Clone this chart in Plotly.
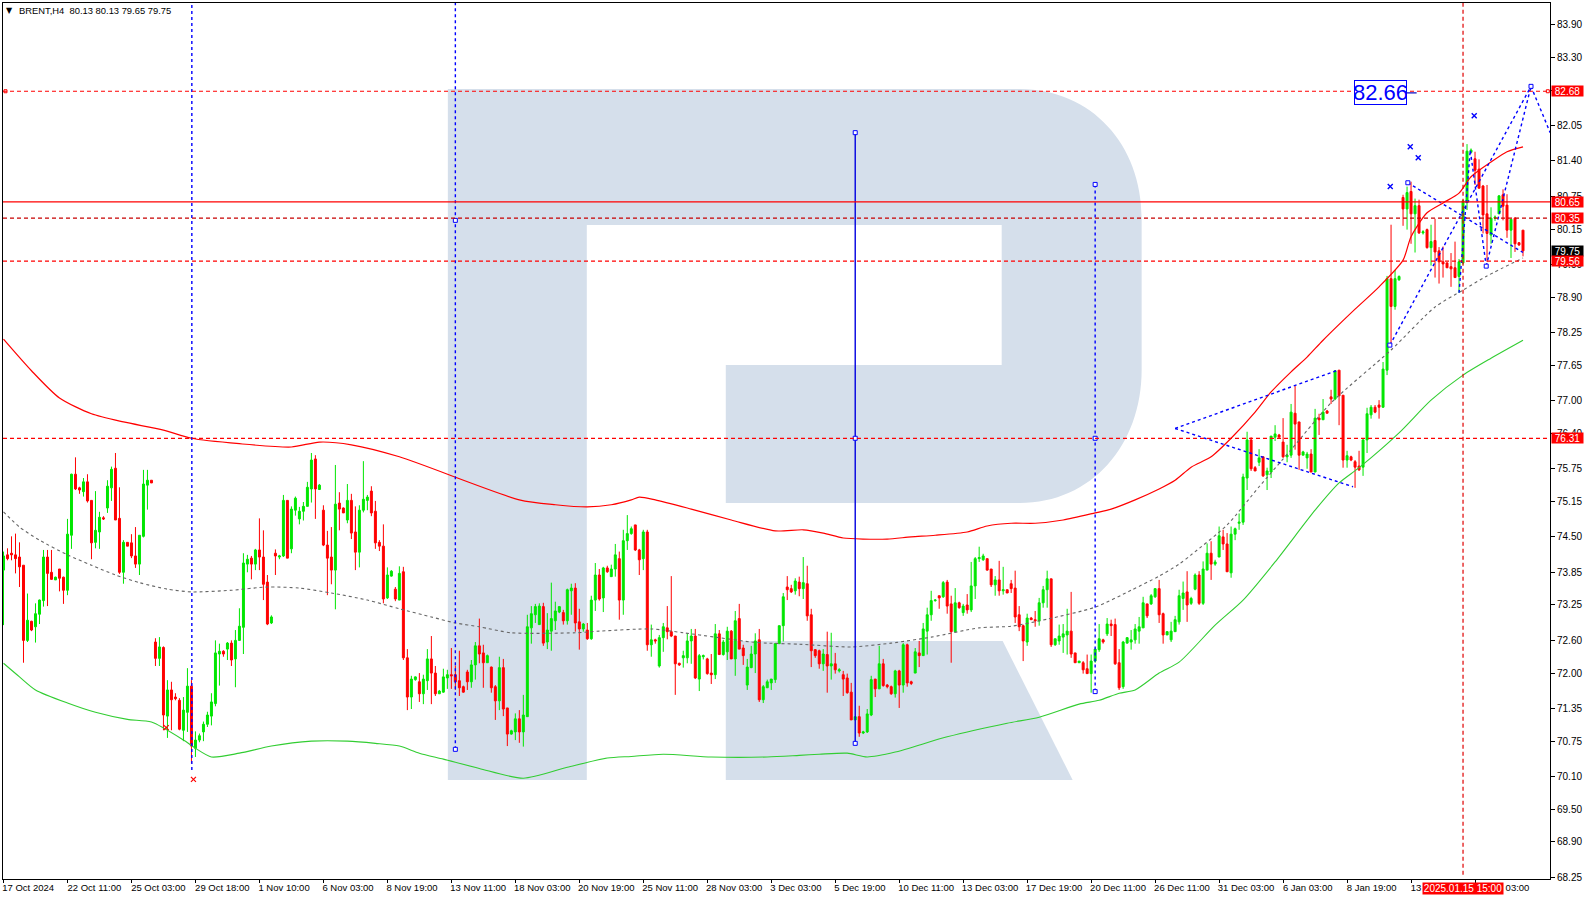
import plotly.graph_objects as go

opens = [
73.89,74.17,74.20,74.17,74.13,73.98,72.60,72.95,72.85,73.08,
73.33,74.13,73.85,73.71,73.91,73.76,73.52,74.53,75.65,75.40,
75.33,75.51,75.17,74.40,74.59,74.85,75.03,75.40,75.76,74.84,
73.85,74.40,74.39,74.15,74.00,74.51,75.45,75.54,72.57,72.27,
72.47,71.21,71.69,71.56,71.50,70.95,71.28,71.76,70.62,70.77,
70.92,71.06,71.21,71.44,72.35,72.40,72.44,72.55,72.26,72.60,
72.84,74.00,74.11,74.00,74.26,74.13,73.67,72.92,74.20,74.13,
74.15,75.17,74.28,74.99,74.83,74.97,75.06,75.38,75.93,75.37,
74.99,74.35,74.13,73.89,75.12,75.03,74.81,75.17,74.59,74.22,
74.99,75.17,75.34,74.97,74.40,74.33,73.38,73.78,73.54,73.34,
73.86,72.28,71.56,71.88,71.84,71.62,71.86,72.26,72.00,71.62,
71.65,71.91,71.97,71.97,71.86,71.75,72.02,71.84,72.15,72.50,
72.37,72.19,72.11,71.75,71.49,72.10,71.36,70.88,70.92,71.16,
70.92,71.20,72.83,73.07,72.89,73.22,72.57,72.77,72.96,73.12,
73.11,72.96,73.51,73.56,72.94,72.81,72.79,72.63,73.34,73.80,
73.38,73.93,73.77,73.91,74.10,73.34,74.43,74.56,74.72,74.26,
74.10,74.59,72.52,72.61,72.13,72.65,72.83,72.76,72.68,72.18,
72.28,72.28,72.59,72.68,71.89,72.30,72.26,72.00,71.97,72.72,
72.34,72.39,72.77,72.26,73.00,72.46,71.78,72.10,72.35,72.61,
71.51,71.73,71.82,71.88,72.54,72.87,73.58,73.55,73.51,73.67,
73.55,73.64,73.07,72.43,72.41,72.17,72.34,72.13,72.17,72.04,
71.97,71.91,71.65,71.14,71.20,70.90,70.92,71.23,71.89,71.71,
72.17,71.78,71.75,71.62,72.04,71.78,72.52,71.84,72.00,72.37,
72.32,72.77,73.07,73.33,73.42,73.40,73.67,73.27,72.76,73.29,
73.11,73.25,73.16,73.60,74.10,74.08,74.10,73.91,73.62,73.71,
73.51,73.53,73.64,73.56,73.07,72.87,72.57,73.01,72.98,72.96,
73.29,73.53,73.73,72.52,72.59,72.66,72.70,72.77,72.37,72.19,
72.19,72.08,71.99,72.22,72.43,72.61,72.72,72.90,72.89,72.19,
71.75,72.55,72.57,72.61,72.77,72.83,73.27,73.27,73.40,73.55,
73.09,72.70,72.61,72.76,72.94,73.37,73.49,73.28,73.54,73.80,
73.28,73.89,74.20,74.00,74.13,74.50,74.37,73.84,74.55,74.75,
74.77,75.58,76.28,75.77,75.87,75.97,75.64,75.69,76.33,76.37,
76.24,75.97,76.00,76.77,76.61,76.00,75.95,76.02,75.69,76.68,
76.65,76.81,77.07,77.03,77.56,77.10,75.91,75.97,75.88,75.80,
75.78,76.28,76.74,76.88,76.92,76.88,77.56,79.24,78.73,79.22,
80.73,80.52,80.84,80.43,80.58,80.08,80.14,79.81,79.94,79.75,
79.55,79.53,79.46,79.44,79.28,79.53,80.65,81.56,81.44,81.25,
80.94,80.43,80.04,80.35,80.43,80.78,80.59,80.13,80.35,79.90,
80.13]
highs = [
74.23,74.29,74.51,74.56,74.40,73.98,73.46,72.96,73.28,73.35,
74.26,74.26,74.26,73.77,73.91,73.77,74.83,75.66,75.96,75.42,
75.58,75.65,75.17,75.34,74.96,74.88,75.54,75.79,76.04,75.41,
74.44,74.40,74.55,74.68,74.53,75.73,75.73,75.54,72.64,72.66,
72.49,71.87,71.84,71.63,71.54,71.56,72.09,71.87,70.93,70.89,
71.11,71.29,71.63,72.60,72.54,72.42,72.57,72.60,72.79,73.19,
74.20,74.17,74.15,74.28,74.84,74.62,73.80,73.06,74.27,74.17,
75.27,75.17,75.06,75.24,75.05,75.14,75.51,76.04,76.00,75.47,
75.08,74.61,74.68,75.82,75.32,75.04,75.47,75.29,75.06,75.08,
75.89,75.27,75.43,75.16,74.44,74.73,73.94,73.89,73.58,73.96,
73.95,72.44,71.95,71.94,72.00,71.97,72.44,72.68,72.13,71.69,
72.08,72.06,72.46,72.14,72.41,71.77,72.06,72.24,72.57,73.00,
72.52,72.34,72.12,71.78,72.30,72.26,71.36,70.96,71.26,71.32,
71.60,73.07,73.23,73.27,73.28,73.29,73.10,73.66,73.31,73.22,
73.16,73.55,73.64,73.65,73.18,72.92,72.92,73.42,74.02,73.91,
73.95,73.97,73.99,74.37,74.23,74.63,74.90,74.69,74.72,74.28,
74.63,74.63,72.89,72.63,72.70,72.92,73.23,73.78,72.68,72.19,
72.41,72.73,72.81,72.81,72.35,72.34,72.28,72.35,72.90,72.79,
72.61,72.85,72.79,73.14,73.27,72.52,72.26,72.50,72.73,72.81,
71.78,71.88,71.89,72.55,72.87,73.47,73.78,73.62,73.74,73.77,
74.13,73.97,73.18,72.44,72.43,72.44,72.76,72.74,72.37,72.09,
72.04,71.99,71.82,71.20,71.40,70.94,71.34,71.95,71.89,72.50,
72.26,71.80,71.77,72.06,72.06,72.55,72.54,71.86,72.46,72.59,
72.92,73.20,73.51,73.36,73.42,73.69,73.71,73.42,73.56,73.31,
73.27,73.45,74.04,74.13,74.32,74.19,74.10,73.91,73.78,74.06,
73.95,73.53,73.71,73.88,73.23,72.89,73.09,73.03,73.14,73.38,
73.60,73.88,73.73,72.63,72.89,72.90,73.18,73.49,72.37,72.22,
72.22,72.34,72.34,72.44,72.90,72.63,73.01,72.98,73.00,72.44,
72.59,72.66,72.79,72.90,73.03,73.40,73.27,73.45,73.56,73.71,
73.11,72.77,72.94,73.05,73.53,73.68,73.87,73.40,73.83,73.87,
74.05,74.38,74.42,74.08,74.69,74.63,74.57,74.69,74.67,74.93,
75.66,76.43,76.33,75.80,76.11,75.97,75.77,76.35,76.55,76.39,
76.68,76.19,76.94,77.27,76.61,76.08,76.06,76.11,76.85,76.76,
77.03,76.83,77.20,77.55,77.56,77.10,76.08,75.99,75.91,76.08,
76.30,76.87,76.92,76.92,77.01,77.71,79.29,80.23,79.40,79.30,
80.78,80.93,81.02,80.71,80.69,80.13,80.16,80.23,80.34,79.82,
79.83,79.53,79.71,79.92,79.60,80.69,81.71,81.63,81.57,81.43,
80.96,80.96,80.55,80.40,80.77,80.88,80.79,80.33,80.37,79.91,
80.13]
lows = [
72.88,74.07,74.07,73.83,73.58,72.19,72.57,72.77,72.56,72.90,
73.22,73.23,73.71,73.71,73.50,73.27,73.43,74.28,75.36,75.29,
75.24,75.13,74.09,74.29,74.28,74.81,74.94,75.16,74.81,73.82,
73.64,74.33,74.11,73.93,73.80,74.49,75.00,75.49,72.13,72.13,
70.95,70.81,70.95,71.50,70.95,70.75,70.92,70.34,70.46,70.73,
70.75,71.01,71.04,71.39,71.77,72.30,72.24,72.13,71.74,72.60,
72.35,73.85,73.72,73.89,73.89,73.34,72.88,72.90,73.80,74.09,
74.13,74.11,74.20,74.89,74.73,74.80,75.06,75.13,74.83,75.36,
74.33,73.43,73.63,73.17,74.62,74.94,74.75,74.46,73.89,73.94,
74.95,74.99,74.88,74.28,74.24,73.28,73.36,73.77,73.32,73.34,
72.24,71.32,71.34,71.86,71.47,71.43,71.69,71.43,71.58,71.62,
71.64,71.71,71.71,71.69,71.58,71.64,71.69,71.73,71.88,72.18,
71.73,72.19,71.64,71.14,71.32,71.21,70.66,70.87,70.77,70.72,
70.65,71.20,72.54,72.92,72.89,72.50,72.44,72.41,72.79,73.10,
72.89,72.89,73.07,72.76,72.43,72.76,72.61,72.61,73.14,73.33,
73.12,73.84,73.77,73.77,72.98,73.07,74.26,74.54,74.24,73.80,
73.89,72.41,72.30,72.54,72.10,72.39,72.62,72.66,71.60,72.13,
72.10,72.18,72.17,71.89,71.67,72.25,71.97,71.80,71.89,72.34,
72.32,72.24,72.26,71.95,72.44,72.15,71.69,72.09,72.00,71.47,
71.45,71.73,71.69,71.82,72.54,72.58,73.34,73.47,73.44,73.41,
73.36,72.96,72.11,72.28,72.08,72.04,71.64,71.88,71.99,72.01,
71.58,71.62,71.14,71.14,70.83,70.88,70.90,71.21,71.56,71.71,
71.75,71.72,71.60,71.55,71.36,71.64,71.75,71.78,72.00,72.11,
72.32,72.34,72.96,73.31,73.18,73.38,73.09,72.19,72.76,73.18,
73.05,73.09,73.12,73.36,74.04,74.06,73.88,73.58,73.42,73.42,
73.44,73.47,73.47,72.92,72.77,72.22,72.50,72.98,72.85,72.87,
73.20,73.20,72.48,72.50,72.52,72.37,72.34,72.28,72.19,72.19,
71.99,71.99,71.64,72.19,72.39,72.54,72.68,72.68,72.15,71.69,
71.71,72.54,72.43,72.54,72.54,72.83,73.01,73.25,73.38,72.92,
72.54,72.70,72.57,72.76,72.89,73.16,72.94,73.25,73.52,73.25,
73.25,73.89,73.71,73.97,74.13,74.26,73.86,73.75,74.44,74.63,
74.72,75.36,75.71,75.71,75.80,75.60,75.36,75.58,76.26,76.33,
75.95,75.87,75.95,76.10,75.73,76.00,75.75,75.69,75.69,76.37,
76.65,76.77,76.94,77.01,76.55,75.77,75.77,75.89,75.40,75.71,
75.62,76.04,76.67,76.77,76.67,76.87,77.47,78.06,78.67,79.20,
80.21,80.14,79.88,79.72,80.06,80.05,79.79,79.48,79.26,79.15,
79.26,79.44,79.09,79.26,78.98,79.50,80.50,81.55,80.96,80.90,
80.07,79.55,79.88,80.30,80.43,80.31,79.99,79.62,79.73,79.84,
79.65]
closes = [
74.15,74.10,74.17,74.10,73.95,72.60,72.97,72.79,73.09,73.34,
74.13,73.83,73.72,73.76,73.74,73.52,74.55,75.65,75.38,75.36,
75.51,75.16,74.39,74.62,74.86,74.83,75.43,75.74,74.81,73.85,
74.40,74.33,74.15,74.00,74.53,75.47,75.54,75.49,72.27,72.48,
71.23,71.69,71.51,71.53,70.97,71.32,71.76,70.66,70.77,70.85,
71.06,71.23,71.47,72.37,72.40,72.35,72.55,72.24,72.60,72.86,
74.02,74.09,74.00,74.26,74.13,73.63,72.90,73.03,74.15,74.15,
75.17,74.11,75.01,75.21,74.97,75.06,75.41,75.91,75.38,75.45,
74.35,74.11,73.89,75.10,75.01,74.94,75.17,74.57,74.22,74.99,
75.19,75.23,74.94,74.39,74.33,73.36,73.80,73.87,73.36,73.83,
72.28,71.56,71.89,71.93,71.62,71.89,72.26,72.00,71.62,71.67,
71.93,71.97,71.95,71.84,71.73,71.65,71.84,72.15,72.50,72.35,
72.19,72.32,71.73,71.49,72.10,71.34,70.88,70.94,71.16,70.92,
71.23,72.85,73.09,73.22,73.23,72.55,72.79,73.00,73.14,73.22,
72.96,73.53,73.56,72.92,72.81,72.90,72.63,73.34,73.80,73.36,
73.93,73.86,73.91,74.17,73.34,74.43,74.56,74.65,74.26,74.08,
74.59,72.52,72.61,72.59,72.65,72.85,72.76,72.68,72.17,72.15,
72.32,72.59,72.68,71.91,72.32,72.32,71.99,71.97,72.72,72.34,
72.57,72.77,72.26,72.96,72.44,72.32,72.11,72.35,72.59,71.51,
71.75,71.84,71.89,72.54,72.87,73.40,73.53,73.49,73.69,73.55,
73.66,73.05,72.41,72.32,72.17,72.35,72.13,72.17,72.06,72.06,
71.89,71.64,71.14,71.20,70.90,70.92,71.25,71.88,71.71,72.17,
71.77,71.75,71.62,72.04,71.78,72.52,71.82,71.81,72.39,72.32,
72.81,73.07,73.33,73.34,73.38,73.66,73.23,72.76,73.29,73.20,
73.23,73.16,73.60,74.10,74.12,74.15,73.89,73.62,73.71,73.51,
73.53,73.47,73.55,73.03,72.85,72.59,73.01,72.98,72.96,73.29,
73.53,73.73,72.52,72.63,72.68,72.72,72.77,72.35,72.19,72.22,
72.06,71.99,72.22,72.44,72.63,72.57,72.90,72.87,72.17,71.73,
72.57,72.65,72.61,72.81,72.85,73.29,73.05,73.42,73.55,73.07,
72.70,72.76,72.77,72.98,73.42,73.47,73.25,73.37,73.80,73.28,
73.91,74.20,74.00,74.04,74.52,74.37,73.86,74.55,74.65,74.77,
75.60,76.28,75.75,75.71,75.95,75.62,75.71,76.35,76.39,76.33,
75.97,76.00,76.79,76.57,76.00,76.06,76.02,75.69,76.68,76.65,
76.79,76.77,77.03,77.55,77.09,75.91,75.99,75.91,75.78,75.73,
76.28,76.76,76.88,76.79,76.88,77.58,79.24,78.73,79.24,79.28,
80.52,80.82,80.43,80.58,80.08,80.10,79.81,79.92,79.73,79.55,
79.51,79.44,79.42,79.26,79.55,80.67,81.58,81.60,81.23,80.90,
80.41,80.07,80.35,80.37,80.76,80.57,80.13,80.33,79.88,79.86,
79.75]

upper_band_x = [0,7,14,22,30,40,47,59,72,79,87,99,129,138,146,152,157,159,163,172,182,193,200,205,210,215,221,227,233,241,246,252,258,265,273,277,283,289,293,297,302,307,313,317,322,326,330,338,344,350,352,356,360,364,367,372,376,380]
upper_band = [78.13,77.55,77.05,76.76,76.61,76.46,76.31,76.21,76.15,76.24,76.19,75.97,75.18,75.09,75.05,75.09,75.18,75.23,75.18,75.01,74.81,74.61,74.63,74.57,74.48,74.46,74.46,74.50,74.53,74.59,74.70,74.75,74.75,74.81,74.94,75.01,75.18,75.38,75.54,75.78,75.97,76.31,76.79,77.16,77.53,77.80,78.11,78.68,79.09,79.58,80.01,80.45,80.63,80.81,81.11,81.38,81.57,81.66]
lower_band_x = [0,4,8,16,23,31,37,45,48,52,59,67,77,86,93,99,104,110,119,130,141,151,157,165,177,191,199,204,211,216,223,236,251,259,269,274,279,283,289,294,303,310,318,328,334,339,349,357,365,372,380]
lower_band = [72.18,71.93,71.69,71.45,71.28,71.15,71.10,70.77,70.62,70.46,70.53,70.66,70.75,70.75,70.71,70.66,70.53,70.42,70.25,70.07,70.27,70.44,70.47,70.51,70.46,70.46,70.49,70.51,70.53,70.46,70.55,70.83,71.08,71.19,71.43,71.50,71.63,71.69,72.00,72.20,72.88,73.34,74.04,74.99,75.49,75.77,76.41,77.01,77.47,77.78,78.11]
mid_band_x = [0,4,9,16,22,28,34,41,47,57,66,74,82,91,99,107,113,119,127,143,149,162,170,178,187,191,199,212,222,232,244,252,261,273,282,289,294,297,306,314,322,332,347,358,365,371,380]
mid_band = [74.96,74.68,74.44,74.17,73.98,73.80,73.66,73.54,73.49,73.52,73.58,73.56,73.47,73.34,73.18,73.03,72.92,72.85,72.74,72.74,72.77,72.81,72.74,72.66,72.57,72.55,72.53,72.48,72.55,72.66,72.83,72.86,72.99,73.21,73.52,73.78,74.00,74.17,74.72,75.42,76.10,76.96,77.93,78.72,79.03,79.29,79.62]

y_ticks = [83.90,83.30,82.70,82.05,81.40,80.75,80.15,79.50,78.90,78.25,77.65,77.00,76.40,75.75,75.15,74.50,73.85,73.25,72.60,72.00,71.35,70.75,70.10,69.50,68.90,68.25]
x_tick_pos = [0,16,32,48,64,80,96,112,128,144,160,176,192,208,224,240,256,272,288,304,320,336,352,368]
x_tick_text = ["17 Oct 2024","22 Oct 11:00","25 Oct 03:00","29 Oct 18:00","1 Nov 10:00","6 Nov 03:00","8 Nov 19:00","13 Nov 11:00","18 Nov 03:00","20 Nov 19:00","25 Nov 11:00","28 Nov 03:00","3 Dec 03:00","5 Dec 19:00","10 Dec 11:00","13 Dec 03:00","17 Dec 19:00","20 Dec 11:00","26 Dec 11:00","31 Dec 03:00","6 Jan 03:00","8 Jan 19:00","13 Jan 11:00","16 Jan 03:00"]

level_prices = [82.68, 80.65, 80.35, 79.56, 76.31]
level_colors = ["#ff0000", "#ff0000", "#c80000", "#ff0000", "#ff0000"]
level_dash = ["4px,3px", "solid", "4px,3px", "4px,3px", "4px,3px"]
label_prices = [82.68, 80.65, 80.35, 79.75, 79.56, 76.31]
label_bg = ["#ff0000", "#ff0000", "#ff0000", "#000000", "#ff0000", "#ff0000"]

W, H = 1590, 900
L_M, R_M, T_M, B_M = 3, 39.5, 3, 21
PW = W - L_M - R_M
PH = H - T_M - B_M
Y_RANGE = [68.22, 84.30]
X_RANGE = [-0.125, 386.75]
FONT = "Liberation Sans"
FS = 9.5


def px(x):
    return (x - L_M) / PW


def py(y):
    return 1 - (y - T_M) / PH


def path(cmds):
    out = []
    for c in cmds:
        if c[0] in "ML":
            out.append(f"{c[0]} {px(c[1]):.5f} {py(c[2]):.5f}")
        elif c[0] == "C":
            out.append(
                f"C {px(c[1]):.5f} {py(c[2]):.5f} {px(c[3]):.5f} {py(c[4]):.5f} {px(c[5]):.5f} {py(c[6]):.5f}"
            )
        else:
            out.append("Z")
    return " ".join(out)


assert len(opens) == len(highs) == len(lows) == len(closes) == 381, (len(opens), len(highs), len(lows), len(closes))

fig = go.Figure()
idx = list(range(len(opens)))
fig.add_trace(go.Candlestick(
    x=idx, open=opens, high=highs, low=lows, close=closes,
    increasing=dict(line=dict(color="#00e600", width=1), fillcolor="#00e600"),
    decreasing=dict(line=dict(color="#ff0000", width=1), fillcolor="#ff0000"),
    whiskerwidth=0, showlegend=False, hoverinfo="skip",
))


def line(x, y, color, width=1.0, dash="solid", shape="linear", smoothing=None):
    ln = dict(color=color, width=width, dash=dash, shape=shape)
    if smoothing is not None:
        ln["smoothing"] = smoothing
    fig.add_trace(go.Scatter(x=x, y=y, mode="lines", showlegend=False, hoverinfo="skip", line=ln))


line(upper_band_x, upper_band, "#ff0000", 1.2, shape="spline", smoothing=0.7)
line(lower_band_x, lower_band, "#32cd32", 1.1, shape="spline", smoothing=0.7)
line(mid_band_x, mid_band, "#666666", 1.1, "3px,3px", shape="spline", smoothing=0.7)

BLUE = "#0000ff"
DASH = "3px,3px"
TOP_P = Y_RANGE[1]
# vertical markers
line([47.1, 47.1], [70.22, TOP_P], BLUE, 1.4, DASH)
line([113, 113], [70.60, TOP_P], BLUE, 1.4, DASH)
line([213, 213], [70.71, 81.92], "#0000e0", 1.4)
line([273, 273], [71.66, 80.97], BLUE, 1.4, DASH)
line([365, 365], [Y_RANGE[0] + 0.08, TOP_P], "#e00000", 1.2, "4px,3px")
# triangle pattern
line([293, 333.3], [76.49, 77.55], BLUE, 1.4, DASH)
line([293, 337.5], [76.49, 75.42], BLUE, 1.4, DASH)
# forecast zigzags
line([346.7, 382], [78.02, 82.77], BLUE, 1.4, DASH)
line([382, 386.8], [82.77, 81.92], BLUE, 1.4, DASH)
line([370.8, 382], [79.47, 82.77], BLUE, 1.4, DASH)
line([364, 366.8, 370.8], [78.98, 81.6, 79.47], BLUE, 1.4, DASH)
line([351.2, 380], [81.0, 79.72], BLUE, 1.4, DASH)
line([350.9, 353.4], [82.65, 82.65], "#0000c0", 1.2)

# anchor squares
sq_x = [113, 113, 213, 213, 213, 273, 273, 273, 346.7, 382, 370.8, 351.2]
sq_y = [80.31, 70.60, 81.92, 76.31, 70.71, 80.97, 76.31, 71.66, 78.02, 82.77, 79.47, 81.0]
fig.add_trace(go.Scatter(x=sq_x, y=sq_y, mode="markers", showlegend=False, hoverinfo="skip",
                         marker=dict(symbol="square", size=4, color="white", line=dict(color=BLUE, width=1))))
# level anchors
la_x = [0.5, 386.2]
la_y = [82.68, 82.68]
fig.add_trace(go.Scatter(x=la_x, y=la_y, mode="markers", showlegend=False, hoverinfo="skip",
                         marker=dict(symbol="square", size=3, color="white", line=dict(color="#ff0000", width=1))))
# forecast marks
bx_x = [346.8, 351.8, 353.8, 367.8]
bx_y = [80.93, 81.66, 81.46, 82.23]
fig.add_trace(go.Scatter(x=bx_x, y=bx_y, mode="markers", showlegend=False, hoverinfo="skip",
                         marker=dict(symbol="x-thin", size=5, line=dict(color=BLUE, width=1.4))))
rx_x = [40.7, 47.5]
rx_y = [71.0, 70.05]
fig.add_trace(go.Scatter(x=rx_x, y=rx_y, mode="markers", showlegend=False, hoverinfo="skip",
                         marker=dict(symbol="x-thin", size=5, line=dict(color="#ff0000", width=1.2))))

shapes = [
    dict(type="path", xref="paper", yref="paper", layer="below", fillcolor="#d5dfeb", line=dict(width=0),
         path=path([("M", 448, 89), ("L", 1020, 89), ("C", 1092, 89, 1142, 145, 1142, 218), ("L", 1142, 370),
                    ("C", 1142, 445, 1092, 503, 1020, 503), ("L", 726, 503), ("L", 726, 365), ("L", 1002, 365),
                    ("L", 1002, 225), ("L", 587, 225), ("L", 587, 780), ("L", 448, 780), ("Z",)])),
    dict(type="path", xref="paper", yref="paper", layer="below", fillcolor="#d5dfeb", line=dict(width=0),
         path=path([("M", 726, 641), ("L", 1003, 641), ("L", 1073, 780), ("L", 726, 780), ("Z",)])),
]
for p, c, d in zip(level_prices, level_colors, level_dash):
    shapes.append(dict(type="line", xref="paper", yref="y", x0=0, x1=1, y0=p, y1=p,
                       line=dict(color=c, width=1.2, dash=d), layer="above"))

annotations = [
    dict(xref="paper", yref="paper", x=px(17.5), y=py(10.5), xanchor="left", yanchor="middle", showarrow=False,
         text="BRENT,H4  80.13 80.13 79.65 79.75", font=dict(family=FONT, size=9.4, color="#000000")),
    dict(xref="paper", yref="paper", x=px(9.5), y=py(10.5), xanchor="center", yanchor="middle", showarrow=False,
         text="▼", font=dict(family="DejaVu Sans", size=8, color="#000000")),
    dict(xref="x", yref="y", x=344.4, y=82.65, xanchor="center", yanchor="middle", showarrow=False, text="82.66",
         font=dict(family=FONT, size=22, color=BLUE), bgcolor="#ffffff", bordercolor=BLUE, borderwidth=1,
         borderpad=0, width=51, height=23),
    dict(xref="x", yref="paper", x=365, y=0, yanchor="top", yshift=-3, showarrow=False, text="2025.01.15 15:00",
         font=dict(family=FONT, size=FS + 0.5, color="#ffffff"), bgcolor="#ff0000", borderpad=0, width=80, height=11),
]
for p, bg in zip(label_prices, label_bg):
    annotations.append(dict(xref="paper", yref="y", x=px(1552), y=p, xanchor="left", yanchor="middle", showarrow=False,
                            text=f"{p:.2f}", font=dict(family=FONT, size=FS + 0.5, color="#ffffff"),
                            bgcolor=bg, borderpad=0, width=31, height=10))

fig.update_layout(
    width=W, height=H, autosize=False, showlegend=False,
    margin=dict(l=L_M, r=R_M, t=T_M, b=B_M, pad=0),
    paper_bgcolor="#ffffff", plot_bgcolor="#ffffff",
    font=dict(family=FONT, size=FS, color="#000000"),
    shapes=shapes, annotations=annotations,
    xaxis=dict(
        range=X_RANGE, rangeslider=dict(visible=False), showgrid=False, zeroline=False,
        showline=True, mirror=True, linecolor="#000000", linewidth=1,
        tickmode="array", tickvals=[t + len(s) * 0.56 for t, s in zip(x_tick_pos, x_tick_text)],
        ticktext=x_tick_text, ticks="", tickangle=0, tickfont=dict(family=FONT, size=FS, color="#000000"),
        minor=dict(tickmode="array", tickvals=x_tick_pos, ticks="outside", ticklen=3, tickcolor="#000000", tickwidth=1, showgrid=False),
    ),
    yaxis=dict(
        range=Y_RANGE, side="right", showgrid=False, zeroline=False,
        showline=True, mirror=True, linecolor="#000000", linewidth=1,
        tickmode="array", tickvals=y_ticks, ticktext=[f"{v:.2f}" for v in y_ticks],
        ticks="outside", ticklen=4, tickcolor="#000000", tickwidth=1,
        tickfont=dict(family=FONT, size=FS + 0.5, color="#000000"),
    ),
)

fig.write_html("out.html", config={"displayModeBar": False},
               post_script="document.body.style.margin='0';document.body.style.overflow='hidden';")
